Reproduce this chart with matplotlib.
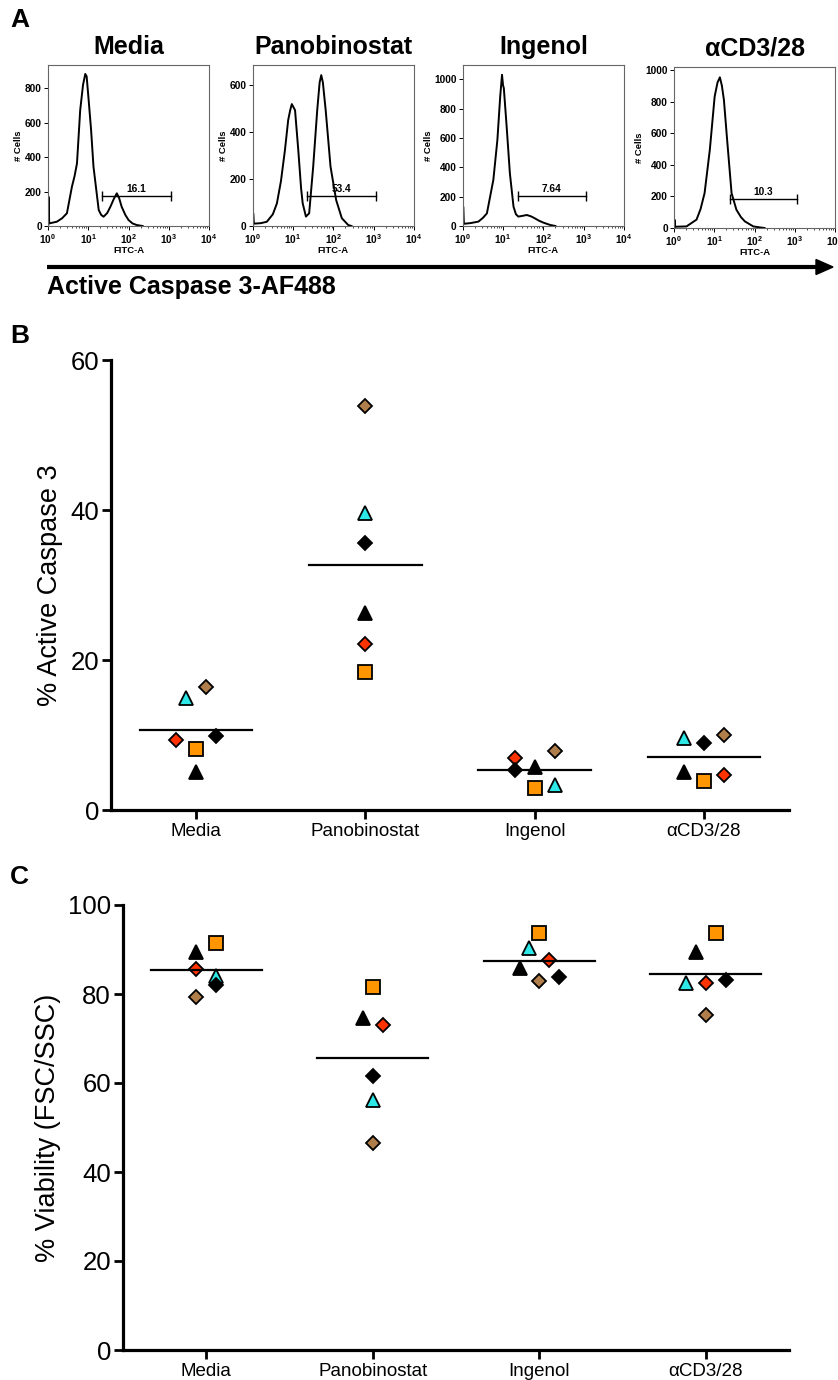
import numpy as np
import matplotlib
matplotlib.use("Agg")
import matplotlib.pyplot as plt
from matplotlib.ticker import LogLocator, FuncFormatter, NullFormatter

plt.rcParams['font.family'] = ['Liberation Sans', 'DejaVu Sans']
plt.rcParams['mathtext.fontset'] = 'custom'
plt.rcParams['mathtext.bf'] = 'Liberation Sans:bold'
plt.rcParams['mathtext.rm'] = 'Liberation Sans'

# ---------------- data ----------------
hist_titles = ["Media", "Panobinostat", "Ingenol", "\u03b1CD3/28"]

media_log_fitc = [0.005, 0.012, 0.03, 0.22, 0.35, 0.47, 0.595, 0.66, 0.72, 0.80, 0.87, 0.926, 0.96,
                  1.01, 1.07, 1.13, 1.26, 1.32, 1.38, 1.47, 1.55, 1.64, 1.71, 1.77, 1.83, 1.92, 2.0,
                  2.1, 2.2, 2.35]
media_counts = [0, 170, 15, 25, 45, 74, 229, 290, 364, 674, 820, 884, 870, 732, 560, 345, 93, 65, 54,
                75, 112, 160, 190, 160, 112, 65, 35, 15, 6, 0]

pano_log_fitc = [0.005, 0.012, 0.03, 0.2, 0.35, 0.5, 0.6, 0.7, 0.8, 0.88, 0.93, 0.97, 1.01, 1.05,
                 1.13, 1.2, 1.24, 1.32, 1.40, 1.5, 1.6, 1.66, 1.70, 1.74, 1.81, 1.93, 2.07, 2.21,
                 2.37, 2.45]
pano_counts = [0, 54, 10, 12, 18, 50, 96, 190, 323, 450, 492, 518, 505, 492, 323, 160, 96, 40, 54,
               252, 492, 610, 641, 610, 492, 252, 110, 33, 4, 0]

ingenol_log_fitc = [0.005, 0.012, 0.03, 0.2, 0.39, 0.5, 0.6, 0.76, 0.86, 0.93, 0.975, 1.0, 1.02,
                    1.09, 1.17, 1.26, 1.32, 1.38, 1.5, 1.59, 1.7, 1.79, 1.9, 2.0, 2.17, 2.3]
ingenol_counts = [0, 132, 15, 20, 30, 55, 86, 314, 586, 882, 1030, 960, 939, 677, 359, 132, 80, 64,
                  70, 75, 65, 52, 35, 23, 7, 0]

cd3_log_fitc = [0.005, 0.012, 0.03, 0.31, 0.56, 0.66, 0.76, 0.89, 1.01, 1.08, 1.14, 1.19, 1.24,
                1.32, 1.43, 1.55, 1.66, 1.76, 1.97, 2.13, 2.25]
cd3_counts = [0, 53, 8, 10, 53, 120, 221, 495, 832, 920, 954, 900, 811, 558, 221, 116, 70, 42, 10,
              4, 0]

hist_ymax = [936, 684, 1097, 1021]
hist_yticks = [[0, 200, 400, 600, 800], [0, 200, 400, 600],
               [0, 200, 400, 600, 800, 1000], [0, 200, 400, 600, 800, 1000]]

gate_start_log = [1.34, 1.34, 1.36, 1.38]
gate_end_log = [3.05, 3.05, 3.05, 3.06]
gate_level = [174, 127, 202, 183]
gate_pct = ["16.1", "53.4", "7.64", "10.3"]

categories = ["Media", "Panobinostat", "Ingenol", "\u03b1CD3/28"]

# % active caspase 3 (panel B), one list per donor
casp_donor1 = [5.1, 26.3, 5.7, 5.1]     # black triangle
casp_donor2 = [15.0, 39.6, 3.4, 9.6]    # cyan triangle
casp_donor3 = [8.1, 18.4, 2.9, 3.9]     # orange square
casp_donor4 = [9.4, 22.2, 6.9, 4.7]     # red diamond
casp_donor5 = [9.9, 35.6, 5.3, 8.9]     # black diamond
casp_donor6 = [16.4, 53.9, 7.9, 10.0]   # brown diamond

# % viability (panel C), one list per donor
via_donor1 = [89.5, 74.5, 85.8, 89.5]
via_donor2 = [84.0, 56.2, 90.3, 82.5]
via_donor3 = [91.4, 81.6, 93.6, 93.8]
via_donor4 = [85.6, 73.0, 87.6, 82.5]
via_donor5 = [82.0, 61.6, 83.9, 83.1]
via_donor6 = [79.4, 46.5, 83.0, 75.3]

# ---------------- styles / layout ----------------
donor_markers = ['^', '^', 's', 'D', 'D', 'D']
donor_sizes = [10.5, 10.0, 9.5, 7.2, 7.2, 7.2]
donor_colors = ['black', '#2EE8E8', '#FF9500', '#FF3300', 'black', '#B07E4A']

# horizontal jitter slots (in units of ~10 px)
jitB = [[0, 0, 0, -2], [-1, 0, 2, -2], [0, 0, 0, 0], [-2, 0, -2, 2], [2, 0, -2, 0], [1, 0, 2, 2]]
jitC = [[-1, -1, -2, -1], [1, 0, -1, -2], [1, 0, 0, 1], [-1, 1, 1, 0], [1, 0, 2, 2], [-1, 0, 0, 0]]
jit_unit = 0.059

W, H = 838, 1380
fig = plt.figure(figsize=(W / 100, H / 100), dpi=100)


def px_axes(x0, y0, x1, y1):
    return fig.add_axes([x0 / W, 1 - y1 / H, (x1 - x0) / W, (y1 - y0) / H])


overlay = px_axes(0, 0, W, H)
overlay.set_xlim(0, W)
overlay.set_ylim(H, 0)
overlay.axis('off')

# ---------------- panel A ----------------
hist_logs = [media_log_fitc, pano_log_fitc, ingenol_log_fitc, cd3_log_fitc]
hist_counts = [media_counts, pano_counts, ingenol_counts, cd3_counts]
hist_boxes = [(48, 65, 209, 226), (252.7, 65, 414, 226), (462.7, 65, 624, 226), (674, 66.7, 835, 228)]

for i in range(4):
    ax = px_axes(*hist_boxes[i])
    ax.plot(10 ** np.array(hist_logs[i]), hist_counts[i], color='black', lw=1.4)
    ax.set_xscale('log')
    ax.set_xlim(1, 1e4)
    ax.set_ylim(0, hist_ymax[i])
    ax.set_yticks(hist_yticks[i])
    ax.xaxis.set_major_locator(LogLocator(base=10, numticks=10))
    ax.xaxis.set_minor_locator(LogLocator(base=10, subs=np.arange(2, 10), numticks=10))
    ax.xaxis.set_minor_formatter(NullFormatter())
    ax.xaxis.set_major_formatter(FuncFormatter(
        lambda v, p: r'$\mathbf{10^{%d}}$' % int(round(np.log10(v)))))
    for sp in ax.spines.values():
        sp.set_color('#666666')
        sp.set_linewidth(0.8)
    ax.tick_params(which='major', length=3, width=0.7, labelsize=7.3, pad=1.5)
    ax.tick_params(which='minor', length=1.6, width=0.5)
    for lab in ax.get_yticklabels():
        lab.set_fontweight('bold')
    ax.set_ylabel('# Cells', fontsize=6.8, fontweight='bold', labelpad=1)
    ax.set_xlabel('FITC-A', fontsize=6.8, fontweight='bold', labelpad=0)
    ax.set_title(hist_titles[i], fontsize=18, fontweight='bold', pad=8)
    s, e, lvl = gate_start_log[i], gate_end_log[i], gate_level[i]
    ax.plot([10 ** s, 10 ** e], [lvl, lvl], color='black', lw=1.0, marker='|', ms=7, mew=1.0)
    ax.annotate(gate_pct[i], xy=(10 ** ((s + e) / 2), lvl), xytext=(0, 1.5),
                textcoords='offset points', ha='center', va='bottom', fontsize=7.3,
                fontweight='bold')

overlay.plot([47, 818], [267, 267], color='black', lw=3.0, solid_capstyle='butt')
overlay.add_patch(plt.Polygon([(816, 259.5), (833, 267), (816, 274.5)], closed=True,
                              color='black'))
overlay.text(47, 287, 'Active Caspase 3-AF488', fontsize=18, fontweight='bold',
             ha='left', va='center')
overlay.text(10, 20, 'A', fontsize=19, fontweight='bold', ha='left', va='center')
overlay.text(10, 336, 'B', fontsize=19, fontweight='bold', ha='left', va='center')
overlay.text(10, 877, 'C', fontsize=19, fontweight='bold', ha='left', va='center')


# ---------------- panels B and C ----------------
def scatter_panel(ax, donor_vals, jit, ymax, yticks, ylabel, labelpad):
    ax.set_xlim(-0.5, 3.5)
    ax.set_ylim(0, ymax)
    for j, vals in enumerate(donor_vals):
        xs = np.arange(len(categories)) + np.array(jit[j]) * jit_unit
        ax.plot(xs, vals, linestyle='none', marker=donor_markers[j], ms=donor_sizes[j],
                mfc=donor_colors[j], mec='black', mew=1.3, zorder=3, clip_on=False)
    means = np.mean(np.array(donor_vals), axis=0)
    for i, m in enumerate(means):
        ax.plot([i - 0.333, i + 0.333], [m, m], color='black', lw=1.6, zorder=4)
    for side in ['top', 'right']:
        ax.spines[side].set_visible(False)
    for side in ['left', 'bottom']:
        ax.spines[side].set_linewidth(2.3)
    ax.set_yticks(yticks)
    ax.set_xticks(range(len(categories)))
    ax.set_xticklabels(categories)
    ax.tick_params(axis='y', length=6.5, width=2.0, labelsize=18.5, pad=2)
    ax.tick_params(axis='x', length=6.5, width=2.0, labelsize=13.5, pad=3)
    ax.set_ylabel(ylabel, fontsize=19.5, labelpad=labelpad)


axB = px_axes(111.4, 360, 788.6, 810)
scatter_panel(axB, [casp_donor1, casp_donor2, casp_donor3, casp_donor4, casp_donor5, casp_donor6],
              jitB, 60, [0, 20, 40, 60], '% Active Caspase 3', 6)

axC = px_axes(122.7, 905, 789.3, 1350)
scatter_panel(axC, [via_donor1, via_donor2, via_donor3, via_donor4, via_donor5, via_donor6],
              jitC, 100, [0, 20, 40, 60, 80, 100], '% Viability (FSC/SSC)', 5)

fig.savefig('out.png', dpi=100)
